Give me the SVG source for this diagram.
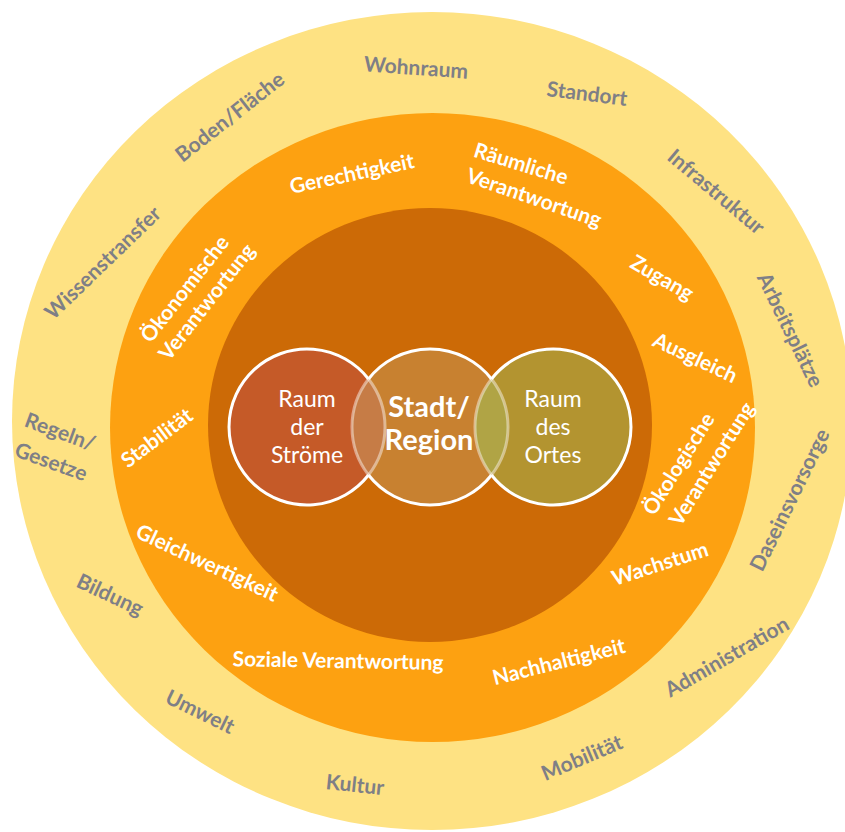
<svg xmlns="http://www.w3.org/2000/svg" width="845" height="832" viewBox="0 0 845 832">
<style>
.o{font-family:Lato,"Open Sans","Liberation Sans",sans-serif;font-weight:bold;font-size:21px;fill:#7F7F86;text-anchor:middle}
.m{font-family:Lato,"Open Sans","Liberation Sans",sans-serif;font-weight:bold;font-size:21px;fill:#FFFFFF;text-anchor:middle}
.c{font-family:Lato,"Open Sans","Liberation Sans",sans-serif;font-size:23px;fill:#FFFFFF;text-anchor:middle}
.cb{font-family:Lato,"Open Sans","Liberation Sans",sans-serif;font-weight:bold;font-size:29px;fill:#FFFFFF;text-anchor:middle}
.ring{fill:none;stroke:#FFFFFF;stroke-width:3}
.inner{fill:none;stroke:#FFFFFF;stroke-opacity:0.45;stroke-width:3}
</style>
<rect width="845" height="832" fill="#FFFFFF"/>
<g id="outer-ring">
<ellipse cx="432" cy="421" rx="420" ry="409" fill="#FEE283"/>
<text class="o" transform="translate(230,117) rotate(-38)" y="7">Boden/Fläche</text>
<text class="o" transform="translate(416,68) rotate(4)" y="7">Wohnraum</text>
<text class="o" transform="translate(587,94) rotate(7)" y="7">Standort</text>
<text class="o" transform="translate(716,192) rotate(40)" y="7">Infrastruktur</text>
<text class="o" transform="translate(790,330) rotate(64)" y="7">Arbeitsplätze</text>
<text class="o" transform="translate(790,500) rotate(-64)" y="7">Daseinsvorsorge</text>
<text class="o" transform="translate(727,657) rotate(-30)" y="7">Administration</text>
<text class="o" transform="translate(582,758) rotate(-23)" y="7">Mobilität</text>
<text class="o" transform="translate(355,785) rotate(6)" y="7">Kultur</text>
<text class="o" transform="translate(200,712) rotate(26)" y="7">Umwelt</text>
<text class="o" transform="translate(110,595) rotate(25)" y="7">Bildung</text>
<text class="o" transform="translate(60,432) rotate(20)" y="7">Regeln/</text>
<text class="o" transform="translate(51,462) rotate(20)" y="7">Gesetze</text>
<text class="o" transform="translate(103,263) rotate(-44)" y="7">Wissenstransfer</text>
</g>
<g id="middle-ring">
<ellipse cx="432.5" cy="427.5" rx="322.5" ry="314.5" fill="#FDA111"/>
<text class="m" transform="translate(352,174) rotate(-12)" y="7">Gerechtigkeit</text>
<text class="m" transform="translate(521,164) rotate(17)" y="7">Räumliche</text>
<text class="m" transform="translate(534,198) rotate(19)" y="7">Verantwortung</text>
<text class="m" transform="translate(662,278) rotate(30)" y="7">Zugang</text>
<text class="m" transform="translate(695,358) rotate(25)" y="7">Ausgleich</text>
<text class="m" transform="translate(679,464) rotate(-58)" y="7">Ökologische</text>
<text class="m" transform="translate(712,464) rotate(-58)" y="7">Verantwortung</text>
<text class="m" transform="translate(660,564) rotate(-18)" y="7">Wachstum</text>
<text class="m" transform="translate(559,662) rotate(-14)" y="7">Nachhaltigkeit</text>
<text class="m" transform="translate(338,661) rotate(1)" y="7">Soziale Verantwortung</text>
<text class="m" transform="translate(207,563) rotate(25)" y="7">Gleichwertigkeit</text>
<text class="m" transform="translate(157,438) rotate(-37)" y="7">Stabilität</text>
<text class="m" transform="translate(185,289) rotate(-52)" y="7">Ökonomische</text>
<text class="m" transform="translate(207,302) rotate(-52)" y="7">Verantwortung</text>
</g>
<g id="inner-core">
<ellipse cx="430" cy="425" rx="222" ry="217" fill="#CC6A06"/>
</g>
<g id="raum-der-stroeme">
<circle cx="307" cy="427" r="78" fill="#C55A28"/>
</g>
<g id="stadt-region">
<circle cx="430" cy="427" r="78" fill="#C88130"/>
<path d="M368.5 379 A78 78 0 0 1 368.5 475 A78 78 0 0 1 368.5 379 Z" fill="#C67C46"/>
<path d="M491.5 379 A78 78 0 0 1 491.5 475 A78 78 0 0 1 491.5 379 Z" fill="#B0A445"/>
</g>
<g id="raum-des-ortes">
<path d="M491.5 379 A78 78 0 0 1 491.5 475 A78 78 0 1 0 491.5 379 Z" fill="#B39430"/>
</g>
<g id="connectors">
<path class="ring" d="M368.5 379 A78 78 0 1 0 368.5 475"/>
<path class="ring" d="M368.5 379 A78 78 0 0 1 491.5 379"/>
<path class="ring" d="M491.5 475 A78 78 0 0 1 368.5 475"/>
<path class="ring" d="M491.5 475 A78 78 0 1 0 491.5 379"/>
<path class="inner" d="M368.5 379 A78 78 0 0 1 368.5 475"/>
<path class="inner" d="M368.5 475 A78 78 0 0 1 368.5 379"/>
<path class="inner" d="M491.5 379 A78 78 0 0 1 491.5 475"/>
<path class="inner" d="M491.5 475 A78 78 0 0 1 491.5 379"/>
</g>
<g id="labels-center">
<text class="c" x="307" y="407">Raum</text>
<text class="c" x="307" y="435">der</text>
<text class="c" x="307" y="463">Ströme</text>
<text class="cb" x="429" y="417">Stadt/</text>
<text class="cb" x="429" y="450">Region</text>
<text class="c" x="553" y="407">Raum</text>
<text class="c" x="553" y="435">des</text>
<text class="c" x="553" y="463">Ortes</text>
</g>
</svg>
